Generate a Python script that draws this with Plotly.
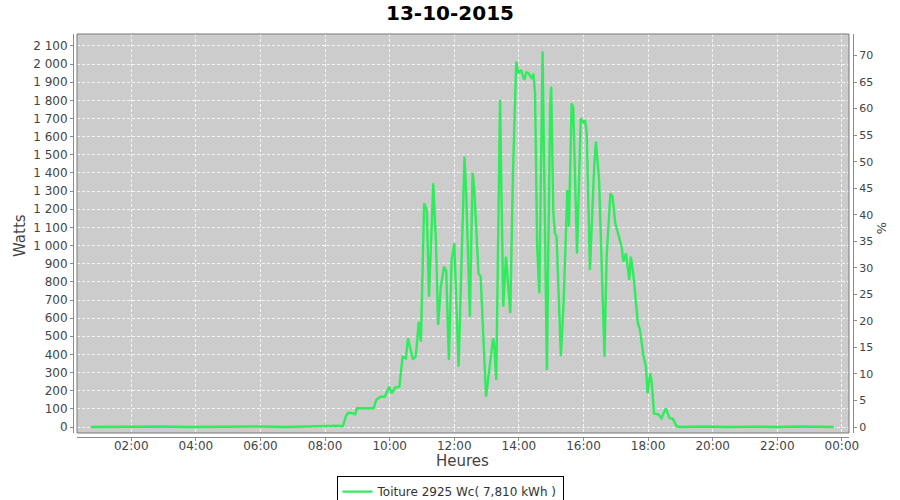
import plotly.graph_objects as go

DAY = "2015-10-13"
PEAK_WC = 2925

times = ["00:45", "01:30", "02:15", "03:00", "03:45", "04:30", "05:15", "06:00", "06:45", "07:30",
         "07:50", "08:10", "08:25", "08:33",
         "08:39", "08:43", "08:50", "08:56", "08:59", "09:30", "09:35", "09:43", "09:51", "09:59",
         "10:04", "10:10", "10:18", "10:24", "10:30", "10:34", "10:43", "10:48", "10:50", "10:54", "10:58",
         "11:04", "11:09", "11:13", "11:21", "11:26", "11:30", "11:35", "11:41", "11:45", "11:50", "11:55",
         "12:00", "12:08", "12:19", "12:22", "12:29", "12:34", "12:37", "12:45", "12:49", "12:59",
         "13:05", "13:12", "13:14", "13:18", "13:25", "13:31", "13:36", "13:44", "13:49", "13:55", "13:59",
         "14:04", "14:07", "14:10", "14:14", "14:18", "14:24", "14:27", "14:30", "14:34", "14:38", "14:44",
         "14:52", "14:58",
         "15:00", "15:04", "15:07", "15:10", "15:18", "15:23", "15:30", "15:33", "15:38", "15:41", "15:48",
         "15:55",
         "16:00", "16:03", "16:06", "16:12", "16:20", "16:23", "16:29", "16:34", "16:39", "16:43", "16:50",
         "16:54", "16:59",
         "17:05", "17:11", "17:14", "17:19", "17:25", "17:28", "17:33", "17:41", "17:45", "17:49", "17:51",
         "17:56", "17:59",
         "18:04", "18:07", "18:11", "18:19", "18:25", "18:33", "18:40", "18:46", "18:53", "18:59",
         "19:45", "20:30", "21:15", "22:00", "22:45", "23:45"]

watts = [0, 2, 0, 3, 0, 2, 0, 3, 0, 4,
         6, 5, 7, 5,
         62, 78, 76, 70, 103, 103, 149, 167, 167, 222,
         186, 217, 222, 388, 378, 489, 373, 388, 437, 580, 470,
         1233, 1196, 718, 1343, 1014, 562, 773, 884, 860, 369, 921,
         1013, 332, 1490, 1300, 608, 1402, 1320, 847, 829, 167,
         314, 489, 460, 259, 1803, 663, 939, 627, 1398, 2014, 1950,
         1968, 1940, 1913, 1955, 1950, 1920, 1947, 1840, 994, 737, 2069,
         314, 1766,
         1876, 1178, 1068, 1050, 390, 682, 1306, 1104, 1784, 1760, 957,
         1702,
         1680, 1690, 1619, 865, 1444, 1573, 1362, 847, 388, 939, 1288,
         1270, 1123,
         1058, 990, 911, 957, 810, 939, 830, 572, 535, 430, 400,
         332, 186,
         296, 240, 75, 70, 48, 103, 48, 45, 5, 0,
         3, 0, 2, 0, 3, 0]

series_name = "Toiture 2925 Wc( 7,810 kWh )"
title_text = "13-10-2015"
y_title = "Watts"
y2_title = "%"
x_title = "Heures"

x = [f"{DAY} {t}" for t in times]

W_RANGE = [-33, 2166]
Y2_RANGE = [W_RANGE[0] * 100 / PEAK_WC, W_RANGE[1] * 100 / PEAK_WC]

fig = go.Figure()
fig.add_trace(go.Scatter(x=x, y=watts, mode="lines", name=series_name,
                         line=dict(color="#2fec5c", width=2.4), yaxis="y"))
fig.add_trace(go.Scatter(x=[], y=[], yaxis="y2", showlegend=False, hoverinfo="skip"))

font_fam = "DejaVu Sans"
axis_col = "#8a8a8a"
tick_font = dict(family=font_fam, size=12, color="#444444")

# paper: left margin 73, right 47 -> width 780 ; top 34, bottom 63 -> height 403
xdom = [4 / 780, 1 - 4 / 780]
ydom = [4 / 403, 1]

fig.update_layout(
    width=900, height=500,
    margin=dict(l=73, r=47, t=34, b=63, autoexpand=False),
    paper_bgcolor="white",
    plot_bgcolor="#cccccc",
    separators=", ",
    title=dict(text=title_text, x=0.5, xanchor="center", y=0.974, yanchor="middle",
               font=dict(family=font_fam, size=20, color="black", weight="bold")),
    showlegend=True,
    legend=dict(orientation="h", x=(450 - 73) / 780, xanchor="center", y=-0.097, yanchor="top",
                bordercolor="black", borderwidth=1, bgcolor="white",
                font=dict(family=font_fam, size=12, color="#333333"),
                itemwidth=30, tracegroupgap=0),
    xaxis=dict(type="date", domain=xdom, anchor="free", position=0, automargin=False,
               range=[f"{DAY} 00:19:12", "2015-10-14 00:13:12"],
               tick0=f"{DAY} 00:00", dtick=2 * 3600 * 1000, tickformat="%H:%M",
               showgrid=True, gridcolor="#f4f4f4", griddash="3px,2px", gridwidth=1,
               showline=True, linecolor=axis_col, linewidth=1,
               ticks="outside", ticklen=3, tickcolor=axis_col, ticklabelstandoff=-5,
               tickfont=tick_font, zeroline=False),
    yaxis=dict(domain=ydom, anchor="free", position=0, range=W_RANGE, automargin=False,
               tickmode="array", tickvals=list(range(0, 2101, 100)), tickformat=",d",
               showgrid=True, gridcolor="#f4f4f4", griddash="3px,2px", gridwidth=1,
               showline=True, linecolor=axis_col, linewidth=1,
               ticks="outside", ticklen=3, tickcolor=axis_col,
               tickfont=tick_font, zeroline=False),
    yaxis2=dict(domain=ydom, anchor="free", position=1, overlaying="y", side="right",
                range=Y2_RANGE, tickmode="linear", tick0=0, dtick=5, automargin=False,
                showgrid=False, showline=True, linecolor=axis_col, linewidth=1,
                ticks="outside", ticklen=3, tickcolor=axis_col,
                tickfont=dict(family=font_fam, size=11, color="#444444"), zeroline=False),
    shapes=[dict(type="rect", xref="paper", yref="paper", x0=xdom[0], x1=xdom[1], y0=ydom[0], y1=ydom[1],
                 line=dict(color="#7a7a7a", width=1), fillcolor="rgba(0,0,0,0)", layer="above")],
    annotations=[
        dict(text=y_title, xref="paper", yref="paper", x=(20 - 73) / 780, y=(437 - 236) / 403,
             showarrow=False, textangle=-90, xanchor="center", yanchor="middle",
             font=dict(family=font_fam, size=15, color="#444444")),
        dict(text=x_title, xref="paper", yref="paper", x=(462 - 73) / 780, y=-(461 - 437) / 403,
             showarrow=False, xanchor="center", yanchor="middle",
             font=dict(family=font_fam, size=15, color="#444444")),
        dict(text=y2_title, xref="paper", yref="paper", x=(882 - 73) / 780, y=(437 - 228) / 403,
             showarrow=False, textangle=90, xanchor="center", yanchor="middle",
             font=dict(family=font_fam, size=13, color="#444444")),
    ],
)

fig.write_html("out.html", config={"displayModeBar": False},
               post_script="document.body.style.margin='0';document.body.style.overflow='hidden';")
